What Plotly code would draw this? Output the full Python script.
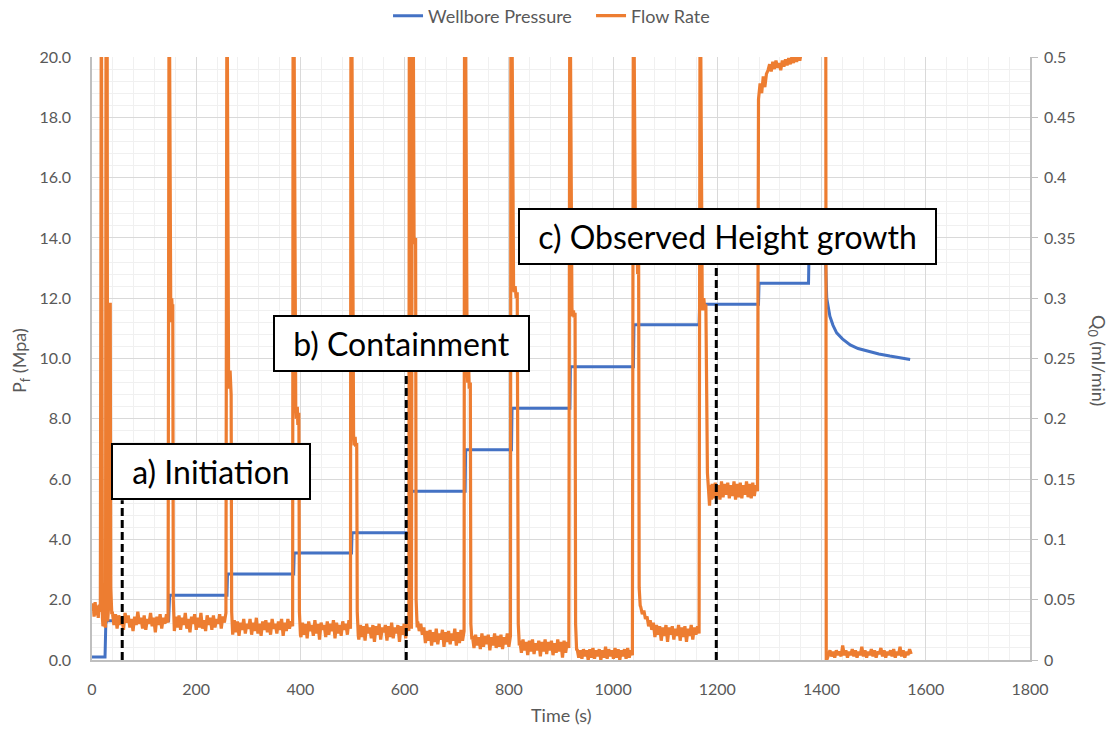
import numpy as np
import plotly.graph_objects as go

# ---------------- Wellbore pressure (MPa) ----------------
pres_t = [0, 25, 26.5, 28, 147, 149, 259, 260, 387, 388, 498, 499, 610, 611,
          716, 717, 805, 806, 917, 918, 1039, 1040, 1165, 1166, 1279, 1280,
          1375, 1376, 1407, 1408, 1410, 1413, 1416, 1422, 1429, 1440, 1455,
          1470, 1487, 1510, 1531, 1550, 1570]
pres_p = [0.1, 0.1, 1.2, 1.3, 1.3, 2.15, 2.15, 2.85, 2.85, 3.55, 3.55, 4.22,
          4.22, 5.6, 5.6, 6.97, 6.97, 8.35, 8.35, 9.73, 9.73, 11.12, 11.12, 11.8,
          11.8, 12.5, 12.5, 13.6, 13.6, 13.2, 12.0, 11.7, 11.4, 11.1, 10.85,
          10.65, 10.45, 10.33, 10.25, 10.15, 10.08, 10.03, 9.97]

# ---------------- Flow rate (ml/min) ----------------
# noisy plateaus: (start time, end time, sampled values)
seg_a = (0, 16, [0.040, 0.047, 0.036, 0.048, 0.037, 0.045, 0.035, 0.046, 0.040])
spike1_t = [17, 18, 20, 21, 23, 26, 27, 29, 30, 32, 33, 35, 36, 38]
spike1_q = [0.6, 0.6, 0.035, 0.028, 0.03, 0.027, 0.6, 0.6, 0.032, 0.045, 0.295, 0.295, 0.06, 0.038]
seg_b = (39, 146, [0.040, 0.029, 0.038, 0.026, 0.037, 0.029, 0.036, 0.025, 0.039, 0.031, 0.037, 0.027,
                   0.034, 0.024, 0.036, 0.029, 0.040, 0.030, 0.035, 0.026, 0.037, 0.025, 0.034, 0.030,
                   0.039, 0.028, 0.035, 0.023, 0.036, 0.029, 0.038, 0.026, 0.035, 0.030, 0.038, 0.031])
spike2_t = [147, 148, 151, 152, 153, 154, 155, 156, 157]
spike2_q = [0.6, 0.6, 0.30, 0.28, 0.30, 0.29, 0.295, 0.05, 0.024]
seg_c = (158, 257, [0.024, 0.036, 0.027, 0.037, 0.025, 0.035, 0.029, 0.039, 0.026, 0.034, 0.023, 0.036,
                    0.030, 0.038, 0.025, 0.035, 0.027, 0.039, 0.026, 0.033, 0.024, 0.037, 0.029, 0.035,
                    0.025, 0.037, 0.027, 0.034, 0.030, 0.038, 0.026, 0.036, 0.031, 0.039])
spike3_t = [258, 259, 262, 263, 265, 266, 267, 268, 269]
spike3_q = [0.6, 0.6, 0.24, 0.225, 0.24, 0.23, 0.22, 0.04, 0.022]
seg_d = (270, 385, [0.021, 0.033, 0.023, 0.032, 0.020, 0.031, 0.025, 0.034, 0.022, 0.030, 0.026, 0.034,
                    0.021, 0.031, 0.024, 0.035, 0.022, 0.030, 0.020, 0.032, 0.025, 0.033, 0.023, 0.031,
                    0.021, 0.034, 0.026, 0.030, 0.022, 0.032, 0.025, 0.034, 0.020, 0.031, 0.024, 0.034,
                    0.026, 0.032, 0.028])
spike4_t = [386, 387, 391, 392, 394, 395, 397, 398, 400]
spike4_q = [0.6, 0.6, 0.21, 0.20, 0.21, 0.195, 0.205, 0.04, 0.021]
seg_e = (401, 496, [0.019, 0.031, 0.021, 0.030, 0.018, 0.032, 0.024, 0.029, 0.020, 0.033, 0.022, 0.030,
                    0.017, 0.031, 0.025, 0.029, 0.019, 0.032, 0.021, 0.030, 0.024, 0.033, 0.018, 0.031,
                    0.022, 0.029, 0.020, 0.032, 0.025, 0.030, 0.021, 0.033, 0.026])
spike5_t = [497, 498, 502, 503, 505, 506, 508, 509, 511]
spike5_q = [0.6, 0.6, 0.186, 0.178, 0.185, 0.177, 0.18, 0.04, 0.02]
seg_f = (512, 608, [0.017, 0.029, 0.019, 0.028, 0.016, 0.030, 0.022, 0.027, 0.018, 0.029, 0.015, 0.028,
                    0.021, 0.030, 0.017, 0.027, 0.023, 0.029, 0.016, 0.028, 0.019, 0.031, 0.018, 0.027,
                    0.022, 0.029, 0.015, 0.028, 0.021, 0.030, 0.018, 0.031, 0.024])
spike6_t = [609, 610, 612, 613, 615, 616, 618, 619, 621, 622, 624]
spike6_q = [0.6, 0.6, 0.03, 0.026, 0.6, 0.6, 0.352, 0.345, 0.35, 0.05, 0.027]
seg_g = (625, 714, [0.032, 0.024, 0.030, 0.021, 0.027, 0.014, 0.024, 0.016, 0.025, 0.012, 0.023, 0.015,
                    0.026, 0.013, 0.022, 0.017, 0.025, 0.011, 0.023, 0.015, 0.024, 0.013, 0.022, 0.016,
                    0.026, 0.012, 0.023, 0.014, 0.025, 0.016, 0.024])
spike7_t = [715, 716, 720, 721, 723, 724, 726, 727, 729]
spike7_q = [0.6, 0.6, 0.24, 0.23, 0.24, 0.225, 0.23, 0.03, 0.017]
seg_h = (730, 803, [0.020, 0.010, 0.021, 0.012, 0.019, 0.009, 0.022, 0.011, 0.020, 0.013, 0.021, 0.008,
                    0.019, 0.012, 0.022, 0.010, 0.020, 0.011, 0.021, 0.009, 0.019, 0.013, 0.022, 0.011,
                    0.020])
spike8_t = [804, 805, 809, 810, 812, 814, 816, 818, 820]
spike8_q = [0.6, 0.6, 0.31, 0.305, 0.31, 0.30, 0.305, 0.03, 0.012]
seg_i = (821, 915, [0.016, 0.006, 0.017, 0.008, 0.015, 0.004, 0.016, 0.007, 0.017, 0.005, 0.014, 0.008,
                    0.016, 0.003, 0.015, 0.007, 0.017, 0.005, 0.015, 0.008, 0.016, 0.004, 0.014, 0.006,
                    0.017, 0.007, 0.015, 0.002, 0.016, 0.006, 0.015, 0.010])
spike9_t = [916, 917, 921, 922, 924, 925, 927, 928, 930]
spike9_q = [0.6, 0.6, 0.292, 0.285, 0.29, 0.284, 0.288, 0.03, 0.008]
seg_j = (931, 1037, [0.009, 0.002, 0.008, 0.001, 0.009, 0.003, 0.008, 0.000, 0.009, 0.002, 0.010, 0.001,
                     0.008, 0.003, 0.009, 0.000, 0.008, 0.002, 0.011, 0.001, 0.009, 0.003, 0.008, 0.001,
                     0.010, 0.002, 0.009, 0.000, 0.008, 0.003, 0.009, 0.001, 0.010, 0.002, 0.008, 0.004])
spike10_t = [1038, 1039, 1043, 1044, 1046, 1047, 1049, 1050, 1052]
spike10_q = [0.6, 0.6, 0.34, 0.33, 0.34, 0.32, 0.33, 0.06, 0.045]
seg_k = (1053, 1165, [0.044, 0.038, 0.041, 0.034, 0.036, 0.028, 0.033, 0.025, 0.031, 0.019, 0.029, 0.021,
                      0.028, 0.016, 0.027, 0.020, 0.029, 0.015, 0.027, 0.021, 0.028, 0.017, 0.026, 0.020,
                      0.029, 0.016, 0.027, 0.019, 0.028, 0.015, 0.026, 0.020, 0.029, 0.017, 0.027, 0.021,
                      0.028, 0.022])
spike11_t = [1166, 1167, 1171, 1172, 1174, 1176, 1178, 1179, 1181, 1183, 1185, 1187, 1189]
spike11_q = [0.6, 0.6, 0.30, 0.29, 0.30, 0.29, 0.295, 0.20, 0.155, 0.142, 0.128, 0.145, 0.133]
seg_l = (1190, 1277, [0.146, 0.134, 0.147, 0.136, 0.145, 0.133, 0.148, 0.135, 0.146, 0.137, 0.147, 0.134,
                      0.145, 0.136, 0.148, 0.133, 0.146, 0.135, 0.147, 0.134, 0.145, 0.137, 0.148, 0.135,
                      0.146, 0.134, 0.147, 0.136, 0.145, 0.140])
seg_top = (1279, 1407, [0.465, 0.478, 0.470, 0.484, 0.475, 0.486, 0.489, 0.494, 0.488, 0.496, 0.490, 0.497,
                        0.491, 0.495, 0.489, 0.497, 0.492, 0.498, 0.493, 0.499, 0.494, 0.500, 0.495, 0.501,
                        0.496, 0.502, 0.497, 0.505, 0.51, 0.52, 0.6, 0.6, 0.6, 0.6, 0.6, 0.6, 0.6, 0.6,
                        0.6, 0.6, 0.6, 0.6, 0.6])
drop_t = [1408, 1409]
drop_q = [0.6, 0.0]
seg_m = (1410, 1572, [0.000, 0.004, 0.008, 0.003, 0.007, 0.002, 0.008, 0.004, 0.007, 0.003, 0.012, 0.004,
                      0.008, 0.002, 0.007, 0.004, 0.009, 0.003, 0.008, 0.002, 0.007, 0.004, 0.011, 0.003,
                      0.008, 0.002, 0.007, 0.004, 0.009, 0.003, 0.008, 0.002, 0.007, 0.005, 0.010, 0.003,
                      0.008, 0.002, 0.007, 0.004, 0.008, 0.003, 0.009, 0.002, 0.007, 0.004, 0.011, 0.003,
                      0.008, 0.002, 0.007, 0.004, 0.009, 0.005])

flow_parts = [seg_a, (spike1_t, spike1_q), seg_b, (spike2_t, spike2_q), seg_c, (spike3_t, spike3_q),
              seg_d, (spike4_t, spike4_q), seg_e, (spike5_t, spike5_q), seg_f, (spike6_t, spike6_q),
              seg_g, (spike7_t, spike7_q), seg_h, (spike8_t, spike8_q), seg_i, (spike9_t, spike9_q),
              seg_j, (spike10_t, spike10_q), seg_k, (spike11_t, spike11_q), seg_l, seg_top,
              (drop_t, drop_q), seg_m]

flow_t, flow_q = [], []
for part in flow_parts:
    if len(part) == 3:
        t0, t1, vals = part
        flow_t.extend(np.linspace(t0, t1, len(vals)).tolist())
        flow_q.extend(vals)
    else:
        flow_t.extend(part[0])
        flow_q.extend(part[1])

# annotation labels and marker times
stage_labels = ["a) Initiation", "b) Containment", "c) Observed Height growth"]
stage_times = [58, 603, 1198]

FONT = "Lato"
GREY = "#595959"

fig = go.Figure()
fig.add_trace(go.Scatter(x=pres_t, y=pres_p, name="Wellbore Pressure", mode="lines",
                         line=dict(color="#4472C4", width=3), yaxis="y"))
fig.add_trace(go.Scatter(x=flow_t, y=flow_q, name="Flow Rate", mode="lines",
                         line=dict(color="#ED7D31", width=3.2), yaxis="y2"))

# dashed markers (heights in MPa up to bottom of each label box)
dash_tops = [5.3, 9.55, 13.1]
for t, top in zip(stage_times, dash_tops):
    fig.add_shape(type="line", xref="x", yref="y", x0=t, x1=t, y0=0, y1=top,
                  line=dict(color="black", width=3, dash="8px,4px"), layer="above")

box_cfg = [  # x centre (s), y centre (MPa), width px
    (228, 6.25, 200),
    (594, 10.5, 257),
    (1219, 14.05, 419),
]
for label, (xc, yc, w) in zip(stage_labels, box_cfg):
    fig.add_annotation(x=xc, y=yc, xref="x", yref="y", text=label, showarrow=False,
                       font=dict(family=FONT, size=32, color="black"),
                       bgcolor="white", bordercolor="black", borderwidth=2, borderpad=0,
                       width=w - 4, height=53, align="center", valign="middle")

fig.add_annotation(x=-0.0768, y=0.4975, xref="paper", yref="paper", textangle=-90,
                   xanchor="center", yanchor="middle",
                   text="P<sub>f</sub> (Mpa)", showarrow=False,
                   font=dict(family=FONT, size=18, color=GREY))
fig.add_annotation(x=1.0725, y=0.4975, xref="paper", yref="paper", textangle=90,
                   xanchor="center", yanchor="middle",
                   text="Q<sub>0</sub> (ml/min)", showarrow=False,
                   font=dict(family=FONT, size=18, color=GREY))
fig.add_annotation(x=0.5, y=-0.0912, xref="paper", yref="paper",
                   xanchor="center", yanchor="middle",
                   text="Time (s)", showarrow=False,
                   font=dict(family=FONT, size=18, color=GREY))

axis_common = dict(showline=True, linecolor="#BFBFBF", linewidth=1.5, zeroline=False,
                   tickfont=dict(family=FONT, size=16, color=GREY))

fig.update_layout(
    width=1114, height=730,
    margin=dict(l=92, r=84, t=57, b=70, autoexpand=False),
    paper_bgcolor="white", plot_bgcolor="white",
    font=dict(family=FONT, color=GREY),
    showlegend=True,
    legend=dict(orientation="h", x=0.3156, xanchor="left", y=1.068, yanchor="middle",
                font=dict(family=FONT, size=18, color=GREY), bgcolor="rgba(0,0,0,0)",
                entrywidth=158, entrywidthmode="pixels"),
    xaxis=dict(range=[0, 1800], tick0=0, dtick=200, showgrid=True, gridcolor="#D9D9D9",
               gridwidth=1, minor=dict(dtick=40, showgrid=True, gridcolor="#F0F0F0", gridwidth=1),
               ticks="", ticklabelstandoff=14, automargin=False, **axis_common),
    yaxis=dict(range=[0, 20], tick0=0, dtick=2, tickformat=".1f", showgrid=True,
               gridcolor="#D9D9D9", gridwidth=1,
               minor=dict(dtick=0.4, showgrid=True, gridcolor="#F0F0F0", gridwidth=1),
               ticks="", ticklabelstandoff=16, automargin=False, **axis_common),
    yaxis2=dict(range=[0, 0.5], tick0=0, dtick=0.05, overlaying="y", side="right",
                showgrid=False, ticks="outside", ticklen=6, tickcolor="#BFBFBF",
                ticklabelstandoff=3, automargin=False, **axis_common),
)

fig.write_html("out.html")
